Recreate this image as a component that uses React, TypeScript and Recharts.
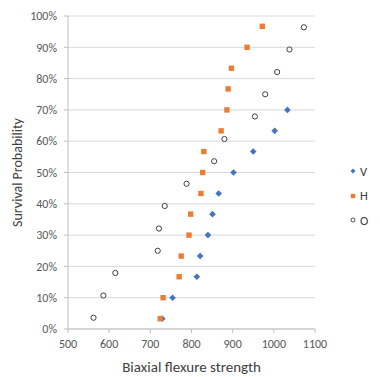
import React from 'react';
import { ScatterChart, Scatter, XAxis, YAxis, CartesianGrid, Legend } from 'recharts';

const vStrength = [729, 754, 813, 821, 840, 851, 866, 902, 950, 1002, 1033];
const vProb = [0.033, 0.1, 0.167, 0.233, 0.3, 0.367, 0.433, 0.5, 0.567, 0.633, 0.7];
const hStrength = [724, 731, 770, 775, 794, 798, 823, 827, 830, 872, 886, 889, 897, 935, 972];
const hProb = [0.033, 0.1, 0.167, 0.233, 0.3, 0.367, 0.433, 0.5, 0.567, 0.633, 0.7, 0.767, 0.833, 0.9, 0.967];
const oStrength = [562, 586, 615, 718, 721, 735, 788, 855, 880, 954, 979, 1008, 1038, 1073];
const oProb = [0.036, 0.107, 0.179, 0.25, 0.321, 0.393, 0.464, 0.536, 0.607, 0.679, 0.75, 0.821, 0.893, 0.964];
const xTicks = [500, 600, 700, 800, 900, 1000, 1100];
const yTicks = [0, 0.05, 0.1, 0.15, 0.2, 0.25, 0.3, 0.35, 0.4, 0.45, 0.5, 0.55, 0.6, 0.65, 0.7, 0.75, 0.8, 0.85, 0.9, 0.95, 1];

const seriesNames = ['V', 'H', 'O'];
const colors = { V: '#4472C4', H: '#ED7D31', O: '#404040' };
const FONT = 'Carlito, Lato, sans-serif';

const toPoints = (xs: number[], ys: number[]) => xs.map((x, i) => ({ x, y: ys[i] }));

const Diamond = (props: any) => {
  const { cx, cy } = props;
  const r = 3.3;
  return <path d={`M${cx},${cy - r}L${cx + r},${cy}L${cx},${cy + r}L${cx - r},${cy}Z`} fill={colors.V} />;
};
const Square = (props: any) => {
  const { cx, cy } = props;
  const r = 2.7;
  return <rect x={cx - r} y={cy - r} width={2 * r} height={2 * r} fill={colors.H} />;
};
const Ring = (props: any) => {
  const { cx, cy } = props;
  return <circle cx={cx} cy={cy} r={2.6} fill="#fff" stroke={colors.O} strokeWidth={1} />;
};

const LegendContent = () => (
  <div style={{ fontFamily: FONT, fontSize: 12.5, color: '#404040' }}>
    {seriesNames.map((n) => (
      <div key={n} style={{ height: 24.5, display: 'flex', alignItems: 'center' }}>
        <svg width={8} height={8} style={{ marginRight: 3 }}>
          {n === 'V' && <path d="M4,1.5L6.5,4L4,6.5L1.5,4Z" fill={colors.V} />}
          {n === 'H' && <rect x={1.8} y={1.8} width={4.4} height={4.4} fill={colors.H} />}
          {n === 'O' && <circle cx={4} cy={4} r={2} fill="#fff" stroke={colors.O} strokeWidth={0.9} />}
        </svg>
        <span>{n}</span>
      </div>
    ))}
  </div>
);

const tickStyle = { fontSize: 12, fill: '#595959', fontFamily: FONT };

export default function App() {
  return (
    <div style={{ position: 'absolute', left: 0, top: 0, width: 380, height: 377, background: '#fff' }}>
      <ScatterChart width={380} height={377} margin={{ top: 16, right: 34, left: 0, bottom: 0 }}>
        <CartesianGrid horizontal vertical={false} stroke="#d9d9d9" />
        <XAxis
          type="number"
          dataKey="x"
          domain={[500, 1100]}
          ticks={xTicks}
          height={48}
          tickSize={4}
          tickMargin={6}
          stroke="#bfbfbf"
          tick={tickStyle}
          label={{ value: 'Biaxial flexure strength', position: 'insideBottom', offset: 5, style: { fontSize: 15, fill: '#404040', fontFamily: FONT } }}
        />
        <YAxis
          type="number"
          dataKey="y"
          domain={[0, 1]}
          ticks={yTicks}
          width={68}
          tickSize={4}
          tickMargin={7}
          stroke="#bfbfbf"
          tick={tickStyle}
          tickFormatter={(v: number) => `${Math.round(v * 100)}%`}
          label={{ value: 'Survival Probability', angle: -90, position: 'insideLeft', offset: 17, style: { fontSize: 14, fill: '#404040', textAnchor: 'middle', fontFamily: FONT } }}
        />
        <Legend layout="vertical" align="right" verticalAlign="top" content={LegendContent} wrapperStyle={{ left: 349, top: 159, width: 31 }} />
        <Scatter name="V" data={toPoints(vStrength, vProb)} shape={Diamond} isAnimationActive={false} />
        <Scatter name="H" data={toPoints(hStrength, hProb)} shape={Square} isAnimationActive={false} />
        <Scatter name="O" data={toPoints(oStrength, oProb)} shape={Ring} isAnimationActive={false} />
      </ScatterChart>
    </div>
  );
}
